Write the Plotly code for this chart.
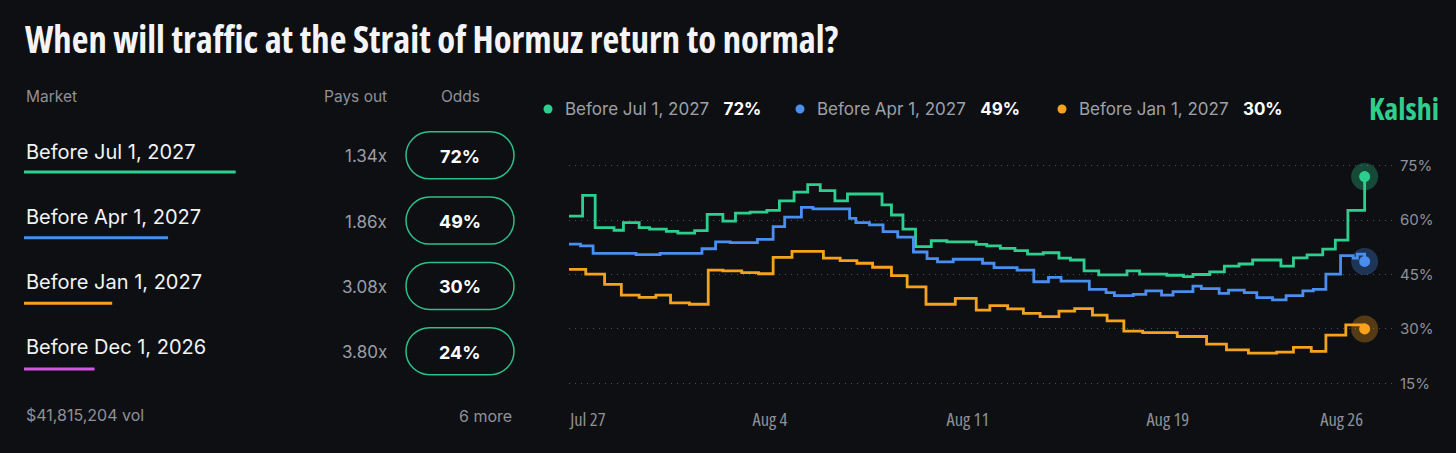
import plotly.graph_objects as go
import pandas as pd

W, H = 1456, 453
bg = "#0e0f13"
body_font = "Inter, Roboto, 'Noto Sans', sans-serif"
narrow_font = "'Open Sans', sans-serif"

# market table
markets = ["Before Jul 1, 2027", "Before Apr 1, 2027", "Before Jan 1, 2027", "Before Dec 1, 2026"]
pays_out = ["1.34x", "1.86x", "3.08x", "3.80x"]
odds = [72, 49, 30, 24]
colors = ["#2ecf8e", "#4a8ef0", "#f7a21c", "#d654e6"]
volume_text = "$41,815,204 vol"
more_text = "6 more"

# price history: hours since Jul 26 06:00 where each step starts, and odds in %
start = pd.Timestamp("2026-07-26 06:00")
jul_hours = [0, 13, 25, 43, 52, 67, 77, 93, 104, 120, 132, 147, 159, 173, 189, 201, 215, 228,
             240, 254, 266, 299, 308, 319, 331, 346, 361, 389, 399, 412, 426, 438, 453, 468,
             479, 492, 506, 533, 545, 571, 587, 596, 612, 626, 640, 653, 680, 692, 705, 720,
             732, 744, 760]
jul_odds = [61.1, 66.8, 57.9, 57.2, 59.3, 57.9, 57.5, 56.9, 56.4, 57.1, 61.6, 59.7, 61.9, 62.2,
            62.7, 65.3, 67.7, 69.8, 68.1, 65.3, 67.2, 64.2, 61.4, 57.5, 52.7, 54.3, 54.0, 53.3,
            52.9, 52.2, 51.6, 50.6, 51.0, 49.5, 49.0, 46.0, 44.9, 46.0, 45.1, 44.8, 44.4, 45.0,
            45.7, 47.3, 47.9, 49.0, 47.3, 49.6, 50.4, 52.0, 54.5, 62.7, 72.0]
apr_hours = [0, 11, 23, 64, 87, 127, 140, 154, 180, 195, 206, 222, 233, 268, 274, 287, 300, 314,
             329, 342, 352, 367, 395, 406, 428, 444, 458, 470, 497, 513, 521, 539, 551, 566,
             577, 596, 604, 621, 630, 645, 657, 672, 685, 701, 711, 723, 737, 749, 753, 760]
apr_odds = [53.4, 52.9, 50.8, 50.5, 50.8, 52.1, 54.0, 53.8, 54.7, 58.2, 60.8, 63.5, 63.1, 60.5,
            59.3, 58.7, 56.8, 55.3, 51.2, 49.4, 48.5, 49.2, 48.1, 46.9, 46.2, 43.0, 44.2, 43.2,
            40.9, 40.0, 39.2, 39.5, 40.5, 39.3, 40.3, 41.8, 41.1, 39.8, 40.7, 40.0, 38.6, 38.0,
            39.2, 40.5, 40.9, 45.1, 50.2, 49.5, 50.6, 48.6]
jan_hours = [0, 16, 34, 50, 67, 83, 97, 115, 133, 147, 165, 181, 195, 213, 243, 259, 275, 290,
             308, 323, 341, 369, 389, 402, 419, 434, 450, 468, 483, 500, 514, 530, 548, 581,
             609, 628, 649, 676, 692, 709, 723, 742, 760]
jan_odds = [46.4, 45.1, 42.3, 39.3, 38.7, 39.3, 37.2, 36.8, 46.2, 46.0, 45.5, 45.2, 49.7, 51.4,
            49.5, 48.8, 48.1, 47.0, 44.7, 41.6, 36.8, 38.4, 35.2, 36.4, 35.5, 34.3, 33.4, 34.9,
            35.6, 33.8, 32.2, 29.4, 29.0, 27.9, 25.8, 24.2, 23.3, 23.6, 24.9, 23.8, 28.3, 31.1,
            30.0]

series = [
    (markets[0], jul_hours, jul_odds, colors[0]),
    (markets[1], apr_hours, apr_odds, colors[1]),
    (markets[2], jan_hours, jan_odds, colors[2]),
]

tick_times = ["2026-07-27 00:00", "2026-08-03 06:00", "2026-08-11 03:00",
              "2026-08-19 02:00", "2026-08-26 00:00"]
tick_labels = ["Jul 27", "Aug 4", "Aug 11", "Aug 19", "Aug 26"]
y_ticks = [15, 30, 45, 60, 75]


def px(x):
    return x / W


def py(y):
    return 1 - y / H


def narrow(s, stretch="condensed"):
    return f"<span style='font-stretch:{stretch}'>{s}</span>"


fig = go.Figure()

for name, hours, vals, c in series:
    xs = start + pd.to_timedelta(hours, unit="h")
    fig.add_trace(go.Scatter(x=xs, y=vals, mode="lines", name=name,
                             line=dict(shape="hv", width=2.8, color=c),
                             hoverinfo="skip", showlegend=False))
    fig.add_trace(go.Scatter(x=[xs[-1]], y=[vals[-1]], mode="markers",
                             marker=dict(size=27, color=c, opacity=0.3),
                             hoverinfo="skip", showlegend=False))
    fig.add_trace(go.Scatter(x=[xs[-1]], y=[vals[-1]], mode="markers",
                             marker=dict(size=11, color=c),
                             hoverinfo="skip", showlegend=False))

# underline bars under each market name
fig.add_trace(go.Bar(x=odds, y=list(range(len(odds))), orientation="h",
                     xaxis="x2", yaxis="y2", width=0.046,
                     marker=dict(color=colors, line_width=0),
                     hoverinfo="skip", showlegend=False))

shapes = []
annotations = []

# title
annotations.append(dict(x=px(23), y=py(39), xanchor="left",
                        text=narrow("<b>When will traffic at the Strait of Hormuz return to normal?</b>"),
                        font=dict(family=narrow_font, size=36.6, color="#f4f4f6")))

# table headers
hdr = dict(family=body_font, size=15.5, color="#8e9198")
annotations.append(dict(x=px(24), y=py(97), text="Market", xanchor="left", font=hdr))
annotations.append(dict(x=px(389), y=py(97), text="Pays out", xanchor="right", font=hdr))
annotations.append(dict(x=px(460), y=py(97), text="Odds", xanchor="center", font=hdr))

k = 0.5523
pw, ph = 108, 47
r = ph / 2
a = pw / 2 - r
pill = (f"M {-a},{-r} L {a},{-r} C {a + k * r},{-r} {a + r},{-k * r} {a + r},0 "
        f"C {a + r},{k * r} {a + k * r},{r} {a},{r} L {-a},{r} "
        f"C {-a - k * r},{r} {-a - r},{k * r} {-a - r},0 "
        f"C {-a - r},{-k * r} {-a - k * r},{-r} {-a},{-r} Z")

for i, m in enumerate(markets):
    ty = 152 + 65 * i
    cy = 155.3 + 65.3 * i
    annotations.append(dict(x=px(24), y=py(ty), text=m, xanchor="left",
                            font=dict(family=body_font, size=20, color="#f2f3f5")))
    annotations.append(dict(x=px(389), y=py(cy + 1), text=pays_out[i], xanchor="right",
                            font=dict(family=body_font, size=17, color="#9b9ea5")))
    annotations.append(dict(x=px(460), y=py(cy + 1), text=f"<b>{odds[i]}%</b>", xanchor="center",
                            font=dict(family=body_font, size=18, color="#ffffff")))
    shapes.append(dict(type="path", xref="paper", yref="paper", xsizemode="pixel",
                       ysizemode="pixel", xanchor=px(460), yanchor=py(cy), path=pill,
                       line=dict(color="#2fbf86", width=1.5), fillcolor="rgba(0,0,0,0)"))

foot = dict(family=body_font, size=16, color="#8e9198")
annotations.append(dict(x=px(24), y=py(415), text=volume_text, xanchor="left", font=foot))
annotations.append(dict(x=px(514), y=py(416), text=more_text, xanchor="right", font=foot))

# chart legend
legend_x = [548, 800, 1062]
for (name, hours, vals, c), lx in zip(series, legend_x):
    shapes.append(dict(type="circle", xref="paper", yref="paper", xsizemode="pixel",
                       ysizemode="pixel", xanchor=px(lx), yanchor=py(109),
                       x0=-4.5, x1=4.5, y0=-4.5, y1=4.5, fillcolor=c, line_width=0))
    annotations.append(dict(x=px(lx + 15), y=py(109), xanchor="left",
                            text=(f"{name}&nbsp;&nbsp;&nbsp;"
                                  f"<b><span style='color:#ffffff'>{vals[-1]:.0f}%</span></b>"),
                            font=dict(family=body_font, size=17, color="#9ea1a8")))

annotations.append(dict(x=px(1441), y=py(108), xanchor="right", text=narrow("<b>Kalshi</b>"),
                        font=dict(family=narrow_font, size=30, color="#2ecf8e")))

for an in annotations:
    an.setdefault("xref", "paper")
    an.setdefault("yref", "paper")
    an.setdefault("yanchor", "middle")
    an.setdefault("showarrow", False)

# axis scale: 15% at y=383.3px, 75% at y=165.7px; plot area spans y 140..395
y_top, y_bot = 140, 395
ppu = (383.3 - 165.7) / 60
y_range = [15 - (y_bot - 383.3) / ppu, 75 + (165.7 - y_top) / ppu]

fig.update_layout(
    width=W, height=H,
    margin=dict(l=0, r=0, t=0, b=0),
    paper_bgcolor=bg, plot_bgcolor=bg,
    showlegend=False,
    shapes=shapes,
    annotations=annotations,
    xaxis=dict(domain=[px(569), px(1395)], type="date", automargin=False,
               range=[start, start + pd.Timedelta(hours=789)],
               tickvals=tick_times, ticktext=[narrow(t, "semi-condensed") for t in tick_labels],
               showgrid=False, zeroline=False, showline=False, ticks="",
               ticklabelstandoff=11,
               tickfont=dict(family=narrow_font, size=18.5, color="#8e9198")),
    yaxis=dict(domain=[py(y_bot), py(y_top)], range=y_range, side="right", automargin=False,
               tickvals=y_ticks, ticktext=[f"{v}%" for v in y_ticks],
               showgrid=True, gridcolor="#4d5057", gridwidth=1, griddash="1px,5px",
               zeroline=False, showline=False, ticks="", ticklabelstandoff=4,
               tickfont=dict(family=body_font, size=15, color="#8e9198")),
    xaxis2=dict(domain=[px(24), px(24 + 294)], range=[0, 100], anchor="y2", visible=False),
    yaxis2=dict(domain=[py(380), py(160)], range=[3.167, -0.183], anchor="x2", visible=False),
)

fig.write_html("out.html", config={"displayModeBar": False},
               post_script=f"document.body.style.margin='0';document.body.style.background='{bg}';")
